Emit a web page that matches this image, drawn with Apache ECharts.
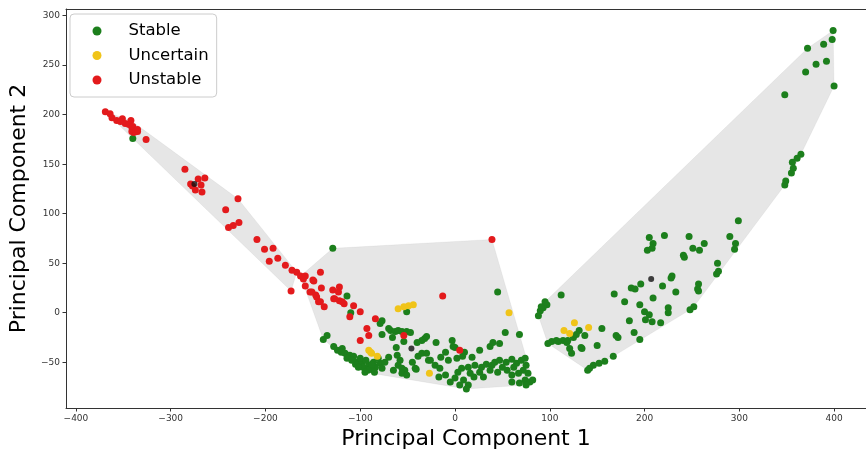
<!DOCTYPE html>
<html>
<head>
<meta charset="utf-8">
<script src="https://cdn.jsdelivr.net/npm/echarts@6/dist/echarts.min.js"></script>
<style>html,body{margin:0;padding:0;background:#fff;}#chart{width:866px;height:455px;}</style>
</head>
<body>
<div id="chart"></div>
<script>
// [PC1, PC2, cluster]
const stable = [
[-340,176,0],
[-129,65,1],[45,21,1],[-114,17,1],[-110,0,1],[-51,1,1],[-139,-27,1],[-135,-23,1],[-128,-34,1],[-124,-38,1],[-119,-36,1],
[-116,-41,1],[-111,-43,1],[-114,-46,1],[-107,-44,1],[-104,-50,1],[-98,-51,1],[-97,-55,1],[-91,-53,1],[-90,-57,1],[-84,-55,1],
[-79,-51,1],[-77,-56,1],[-74,-50,1],[-79,-11,1],[-77,-8,1],[-68,-18,1],[-63,-19,1],[-60,-18,1],[-56,-19,1],[-51,-19,1],
[-47,-20,1],[-77,-22,1],[-70,-16,1],[-54,-29,1],[-61,-43,1],[-58,-48,1],[-60,-53,1],[-56,-56,1],[-53,-58,1],[-56,-61,1],
[-51,-63,1],[-41,-57,1],[-39,-44,1],[-35,-41,1],[-32,-26,1],[-28,-48,1],[-35,-28,1],[-3,-28,1],[0,-35,1],[10,-40,1],
[8,-44,1],[2,-46,1],[26,-38,1],[37,-34,1],[40,-30,1],[47,-31,1],[53,-20,1],[68,-22,1],[-30,-41,1],[-26,-48,1],
[-21,-53,1],[-16,-56,1],[-17,-65,1],[-10,-63,1],[-7,-48,1],[-5,-70,1],[0,-66,1],[5,-73,1],[9,-68,1],[14,-73,1],
[16,-61,1],[7,-56,1],[3,-60,1],[14,-55,1],[21,-53,1],[28,-55,1],[33,-52,1],[39,-53,1],[42,-50,1],[47,-48,1],
[54,-50,1],[60,-47,1],[65,-51,1],[70,-48,1],[74,-46,1],[75,-53,1],[72,-58,1],[77,-61,1],[67,-61,1],[60,-63,1],
[60,-70,1],[68,-71,1],[74,-68,1],[79,-70,1],[82,-68,1],[75,-73,1],[37,-58,1],[26,-60,1],[-42,-56,1],[-2,-34,1],
[-30,-24,1],[12,-77,1],[-120,-40,1],[-100,-46,1],[-94,-48,1],[-86,-50,1],[-81,-46,1],[-105,-52,1],[-92,-58,1],[-85,-60,1],
[-70,-45,1],[-65,-58,1],[-45,-50,1],[-20,-30,1],[-62,-35,1],[20,-65,1],[30,-65,1],[45,-60,1],[50,-55,1],[62,-55,1],
[-109,-48,1],[-102,-55,1],[-95,-60,1],[-88,-52,1],[-66,-25,1],[-40,-30,1],[-10,-40,1],[-15,-45,1],[18,-45,1],[55,-58,1],
[399,285,2],[398,276,2],[372,267,2],[389,271,2],[392,254,2],[381,251,2],[370,243,2],[400,229,2],[348,220,2],[365,160,2],
[361,156,2],[356,152,2],[357,146,2],[355,141,2],[349,133,2],[348,129,2],[299,93,2],[290,77,2],[296,70,2],[295,64,2],
[277,50,2],[276,39,2],[278,42,2],[257,29,2],[256,24,2],[257,22,2],[248,3,2],[205,76,2],[209,70,2],[203,63,2],
[208,65,2],[221,78,2],[247,77,2],[251,65,2],[258,63,2],[263,70,2],[241,58,2],[242,56,2],[229,37,2],[228,35,2],
[196,29,2],[186,25,2],[190,24,2],[219,27,2],[209,15,2],[233,21,2],[168,19,2],[179,11,2],[195,8,2],[200,1,2],
[205,-2,2],[225,5,2],[225,0,2],[184,-8,2],[201,-7,2],[208,-9,2],[217,-10,2],[155,-16,2],[189,-20,2],[195,-27,2],
[170,-23,2],[172,-25,2],[150,-33,2],[133,-35,2],[167,-44,2],[158,-49,2],[152,-51,2],[146,-53,2],[142,-56,2],[140,-58,2],
[112,18,2],[97,8,2],[93,5,2],[90,2,2],[88,-3,2],[91,6,2],[95,11,2],[131,-18,2],[137,-23,2],[125,-25,2],[119,-28,2],
[114,-28,2],[109,-29,2],[102,-29,2],[98,-31,2],[121,-36,2],[123,-41,2],[134,-36,2],[128,-22,2],[118,-30,2],[107,-28,2],[252,6,2]
];
const uncertain = [
[-60,4,1],[-54,6,1],[-49,7,1],[-44,8,1],[-91,-38,1],[-88,-41,1],[-82,-44,1],[-89,-40,1],[-27,-61,1],[57,0,1],
[115,-18,2],[126,-10,2],[141,-15,2],[121,-21,2]
];
const unstable = [
[-369,203,0],[-364,201,0],[-362,197,0],[-357,194,0],[-351,196,0],[-348,191,0],[-342,194,0],[-341,187,0],[-339,182,0],[-335,183,0],
[-341,183,0],[-344,190,0],[-353,193,0],[-340,188,0],[-337,183,0],[-335,185,0],[-326,175,0],[-285,145,0],[-279,130,0],[-271,135,0],
[-264,136,0],[-268,129,0],[-274,124,0],[-267,122,0],[-277,128,0],[-229,115,0],[-242,104,0],[-239,86,0],[-234,88,0],[-228,91,0],
[-209,74,0],[-201,64,0],[-192,65,0],[-196,52,0],[-187,55,0],[-179,48,0],[-172,43,0],[-167,41,0],[-173,22,0],
[-163,37,1],[-158,37,1],[-160,34,1],[-150,33,1],[-142,41,1],[-158,27,1],[-153,21,1],[-147,18,1],[-141,25,1],[-146,16,1],
[-144,11,1],[-138,6,1],[-129,23,1],[-122,26,1],[-123,21,1],[-128,14,1],[-122,12,1],[-117,9,1],[-119,11,1],[-107,7,1],
[-100,1,1],[-111,-4,1],[-84,-6,1],[-93,-16,1],[-91,-23,1],[-100,-28,1],[-149,32,1],[-151,21,1],[-142,11,1],[-127,14,1],
[-54,-23,1],[39,74,1],[-13,17,1],[5,-38,1]
];
const centroids = [[-275,130],[-46,-36],[207,34]];
const xTicks = [-400,-300,-200,-100,0,100,200,300,400];
const yTicks = [-50,0,50,100,150,200,250,300];

function hull(pts){
  const p = pts.map(a=>[a[0],a[1]]).sort((a,b)=>a[0]-b[0]||a[1]-b[1]);
  const cross=(o,a,b)=>(a[0]-o[0])*(b[1]-o[1])-(a[1]-o[1])*(b[0]-o[0]);
  const lo=[],up=[];
  for(const q of p){while(lo.length>=2&&cross(lo[lo.length-2],lo[lo.length-1],q)<=0)lo.pop();lo.push(q);}
  for(let i=p.length-1;i>=0;i--){const q=p[i];while(up.length>=2&&cross(up[up.length-2],up[up.length-1],q)<=0)up.pop();up.push(q);}
  up.pop();lo.pop();return lo.concat(up);
}
const all = stable.concat(uncertain, unstable);
const hulls = [0,1,2].map(c=>hull(all.filter(p=>p[2]===c)));

const FONT = 'DejaVu Sans';
const fmt = v => v<0 ? '\u2212'+Math.abs(v) : String(v);
const XMIN = -410.5, XMAX = 433.7;
const chart = echarts.init(document.getElementById('chart'));
chart.setOption({
  animation:false,
  backgroundColor:'#fff',
  grid:{left:66,right:0,top:9,bottom:45,show:false},
  legend:{
    data:['Stable','Uncertain','Unstable'],orient:'vertical',left:70,top:14,
    padding:[7,8,7,22.5],itemWidth:9,itemHeight:9,itemGap:4.5,icon:'circle',
    textStyle:{fontFamily:FONT,fontSize:16.5,lineHeight:20,color:'#000',padding:[0,0,0,22]},
    borderColor:'#cccccc',borderWidth:1,borderRadius:4,backgroundColor:'rgba(255,255,255,0.8)'
  },
  xAxis:[{type:'value',min:XMIN,max:XMAX,
    name:'Principal Component 1',nameLocation:'middle',nameGap:20,
    nameTextStyle:{fontFamily:FONT,fontSize:22,color:'#000'},
    axisLine:{onZero:false,lineStyle:{color:'#333'}},
    axisTick:{show:true,customValues:xTicks,length:3.5,lineStyle:{color:'#333'}},
    axisLabel:{customValues:xTicks,formatter:fmt,fontFamily:FONT,fontSize:9,color:'#333',margin:6},
    splitLine:{show:false}},
   {type:'value',position:'top',min:XMIN,max:XMAX,
    axisLine:{show:true,onZero:false,lineStyle:{color:'#333'}},
    axisTick:{show:false},axisLabel:{show:false},splitLine:{show:false}}],
  yAxis:{type:'value',min:-96.2,max:306.7,
    name:'Principal Component 2',nameLocation:'middle',nameGap:31,
    nameTextStyle:{fontFamily:FONT,fontSize:22,color:'#000'},
    axisLine:{show:true,onZero:false,lineStyle:{color:'#333'}},
    axisTick:{show:true,customValues:yTicks,length:3.5,lineStyle:{color:'#333'}},
    axisLabel:{customValues:yTicks,formatter:fmt,fontFamily:FONT,fontSize:9,color:'#333',margin:6},
    splitLine:{show:false}},
  series:[
    {type:'custom',silent:true,z:1,data:[[0],[1],[2]],
      renderItem:(params,api)=>{
        const h = hulls[api.value(0)];
        return {type:'polygon',shape:{points:h.map(p=>api.coord(p))},
          style:{fill:'rgba(128,128,128,0.2)',stroke:'rgba(128,128,128,0.08)',lineWidth:1}};
      }},
    {name:'Stable',type:'scatter',z:3,symbolSize:7,data:stable.map(p=>[p[0],p[1]]),itemStyle:{color:'#1c7f1c',opacity:1}},
    {name:'Unstable',type:'scatter',z:3,symbolSize:7,data:unstable.map(p=>[p[0],p[1]]),itemStyle:{color:'#e31a1c',opacity:1}},
    {name:'Uncertain',type:'scatter',z:3,symbolSize:7,data:uncertain.map(p=>[p[0],p[1]]),itemStyle:{color:'#f0c419',opacity:1}},
    {name:'Centroid',type:'scatter',z:4,symbolSize:6,data:centroids,itemStyle:{color:'#111'}}
  ]
});
</script>
</body>
</html>
